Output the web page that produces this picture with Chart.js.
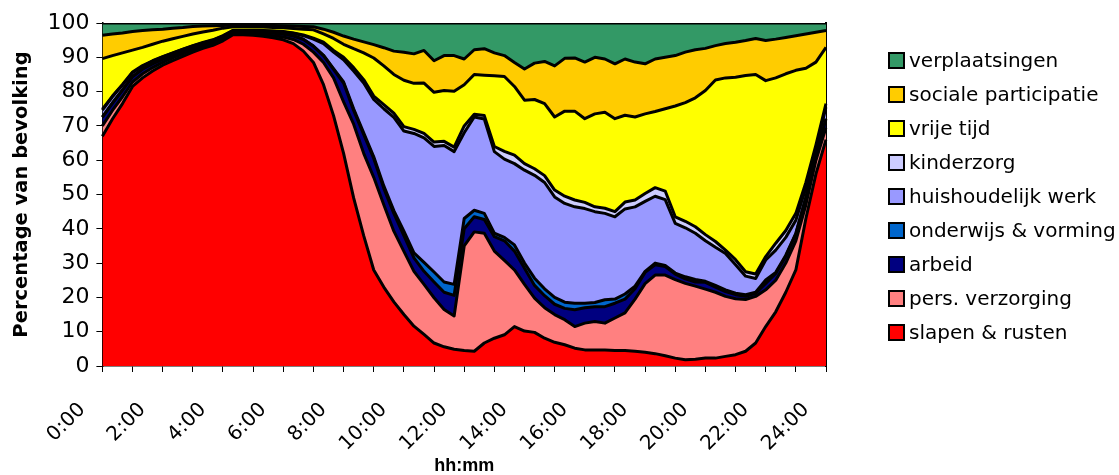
<!DOCTYPE html>
<html>
<head>
<meta charset="utf-8">
<script src="https://cdn.jsdelivr.net/npm/chart.js@4.4.1/dist/chart.umd.min.js"></script>
<style>
  html, body { margin: 0; padding: 0; background: #fff; }
  #wrap { position: relative; width: 1119px; height: 475px; }
  #legend { position: absolute; left: 888px; top: 43px; font: 20px "DejaVu Sans", sans-serif; color: #000; }
  .item { height: 34px; display: flex; align-items: center; white-space: nowrap; }
  .box { width: 13px; height: 13px; border: 2px solid #000; margin-right: 4px; flex: none; }
</style>
</head>
<body>
<div id="wrap">
  <canvas id="chart"></canvas>
  <div id="legend"></div>
</div>
<script>
// time of day, every 20 minutes
const times = [];
for (let k = 0; k <= 72; k++) {
  const m = k * 20;
  times.push(Math.floor(m / 60) + ":" + String(m % 60).padStart(2, "0"));
}
const tickLabels = ["0:00","2:00","4:00","6:00","8:00","10:00","12:00","14:00","16:00","18:00","20:00","22:00","24:00"];

// percentage of population per activity (bottom to top)
const slapen = [67,72,76.5,81.5,84,86,87.7,89,90.3,91.5,92.6,93.5,94.8,96.6,96.6,96.4,96.1,95.7,95.1,94,91.8,88.5,82,73,62,49,38,28,23,18.7,15,11.6,9.2,6.7,5.6,4.9,4.5,4.3,6.7,8.1,9.1,11.5,10.2,9.8,8.1,6.9,6.2,5.2,4.7,4.7,4.7,4.5,4.5,4.3,4,3.6,3,2.3,1.8,2,2.3,2.3,2.8,3.3,4.3,6.7,11.5,15.8,21.5,28,43,56,66];
const verzorging = [3,2.5,2,1.3,1.2,1,0.8,0.8,0.7,0.7,0.6,0.6,0.5,0.4,0.4,0.4,0.5,0.6,0.8,1.2,2,3,6.5,11,15,21.5,24,27,24,20.6,18.4,16,14.6,13.2,10.9,9.7,30.5,34.8,32,25.4,21.7,16.5,13.6,10,8.9,8.1,7.3,6.3,7.8,8.3,7.8,9.5,11,15.2,20,22.9,23.5,22.9,22.3,21.3,20.1,19.2,17.5,16.3,15.1,13.6,10.7,9.2,8.5,8.5,4,4,3.5];
const arbeid = [2.5,2.1,1.9,1.5,1.3,1.1,0.9,0.8,0.7,0.6,0.6,0.5,0.5,0.4,0.4,0.4,0.6,0.7,0.8,1,1.4,1.7,2,2.5,5.5,4,5.5,5.5,4.8,5.2,4.6,3.9,3.8,4.6,5,6,5,4.4,4,4.2,5.7,5.5,4.7,3.7,3.5,3,3.3,4.9,4.5,4.3,4.8,4.3,4,3,3.3,3,2.5,1.6,1.3,1.2,2,1.5,1.4,1.2,0.9,0.9,1.9,2,2,2,2,1.5,2.5];
const onderwijs = [0.1,0.1,0.1,0.1,0.1,0.1,0.1,0.1,0.1,0.1,0.1,0.1,0.1,0.1,0.1,0.1,0.1,0.1,0.1,0.1,0.1,0.1,0.1,0.2,0.3,0.5,0.5,0.5,0.7,0.8,1.3,1.5,2.6,2.9,3,3.2,3,1.9,1.8,1,1,1.8,1.5,2.1,2,2,1.8,1.9,1.3,1.2,2,1.2,1.5,0.8,0.3,0.5,0.3,0.3,0.6,0.7,0.3,0.5,0.5,0.4,0.5,0.3,1,0.3,0.3,0.2,0.2,0.1,0.1];
const huishouden = [2,1.8,1.4,1.1,0.8,0.7,0.6,0.5,0.5,0.4,0.3,0.3,0.3,0.3,0.3,0.4,0.4,0.5,0.6,0.7,1,2,3.4,4.8,6.5,11,14.5,16.7,22.5,27.2,29.2,34.8,36.3,36.6,39.8,38.7,25,27.2,27.5,23.8,22.8,23.7,27.1,30,31,29.3,28.8,28.1,27.6,26.5,25.2,24,24.8,23.1,20.4,19.5,19.2,14.5,14.3,13.5,11.8,11.1,10.6,8.3,5.4,4,5.8,6.5,5.2,3.8,2.8,1.9,3.4];
const kinderzorg = [0.3,0.2,0.2,0.2,0.2,0.1,0.1,0.1,0.1,0.1,0.1,0.1,0.1,0.1,0.1,0.1,0.1,0.1,0.1,0.1,0.2,0.3,0.4,0.5,0.7,1,1,1,1.2,1.2,1.3,1.2,1.3,1.3,1.2,1.3,2,0.8,1,1.5,2.3,2.5,1.9,1.9,2,2,2.1,2,1.8,1.4,1.5,1.5,2,2,2.3,2.5,2.5,1.9,1.9,1.9,1.8,1.7,1,1.5,1.3,1.3,1,2,2,2,1.5,1,1];
const vrijeTijd = [14.7,11.8,9.2,6.4,5.3,4.8,4.5,4.1,3.7,3.4,3.1,2.8,2.2,1,1,1,1,1,1.1,1.3,1.7,2.4,2.4,3.5,3.8,5.5,7.8,11.1,11.3,11.3,13.5,13.4,14.7,14.5,14.8,16.3,12,11.6,11.8,20.6,21.8,20,18.5,20.2,21,21.3,24.8,25.9,24.4,27.1,28,27.1,25.3,24.2,23.2,22.2,24,32.3,34.6,37.6,42,47.1,50.2,53.2,57.2,58.2,51.3,48.2,45.7,41.7,33.3,24.1,16.4];
const sociaal = [6.8,6.3,5.8,5.4,4.9,4.2,3.5,3.1,2.6,2.2,1.7,1.3,0.8,0.5,0.6,0.6,0.6,0.6,0.6,0.7,0.8,0.9,1.4,1.8,2.4,2.8,3.2,3.9,5.3,6.8,8.2,8.6,9.5,9.2,10.2,10.4,7.5,7.2,7.7,6.7,6.1,7,9.1,10.6,12.3,14.9,15.4,15.5,16.5,16.5,15.5,16,16.4,16,14.6,15.3,15,14.7,14.7,14,12.3,10,10,10.2,10.2,10.5,11.7,11.3,10.6,10.1,10,8.7,4.9];
const verplaatsing = [3.6,3.2,2.9,2.5,2.2,2,1.8,1.5,1.3,1,0.9,0.8,0.7,0.6,0.5,0.6,0.6,0.7,0.8,0.9,1,1.1,1.8,2.7,3.8,4.7,5.5,6.3,7.2,8.2,8.5,9,8,11,9.5,9.5,10.5,7.8,7.5,8.7,9.5,11.5,13.4,11.7,11.2,12.5,10.3,10.2,11.4,10,10.5,11.9,10.5,11.4,11.9,10.5,10,9.5,8.5,7.8,7.4,6.6,6,5.6,5.1,4.5,5.1,4.7,4.2,3.7,3.2,2.7,2.2];

const names = ["slapen & rusten","pers. verzorging","arbeid","onderwijs & vorming","huishoudelijk werk","kinderzorg","vrije tijd","sociale participatie","verplaatsingen"];
const colors = ["#FF0000","#FF8080","#000080","#0066CC","#9999FF","#CCCCFF","#FFFF00","#FFCC00","#339966"];
const series = [slapen, verzorging, arbeid, onderwijs, huishouden, kinderzorg, vrijeTijd, sociaal, verplaatsing];

Chart.defaults.font.family = "'DejaVu Sans', sans-serif";
Chart.defaults.color = "#000";

const datasets = series.map((d, i) => ({
  label: names[i],
  data: d,
  backgroundColor: colors[i],
  borderColor: "#000",
  borderWidth: 3,
  borderJoinStyle: "round",
  pointRadius: 0,
  tension: 0,
  fill: i === 0 ? "origin" : "-1"
}));

new Chart(document.getElementById("chart"), {
  type: "line",
  data: { labels: times, datasets: datasets },
  options: {
    responsive: true,
    maintainAspectRatio: false,
    animation: false,
    layout: { padding: { left: 6, right: 293, top: 23, bottom: 0 } },
    plugins: { legend: { display: false }, tooltip: { enabled: false } },
    scales: {
      x: {
        offset: false,
        afterFit: (scale) => { scale.height = 109; },
        grid: {
          drawOnChartArea: false,
          tickLength: 6,
          tickColor: (ctx) => (ctx.index % 3 === 0 ? "#000" : "rgba(0,0,0,0)")
        },
        border: { color: "#000", width: 1.5 },
        ticks: {
          autoSkip: false,
          maxRotation: 45,
          minRotation: 45,
          padding: 26,
          labelOffset: -20,
          font: { size: 20 },
          callback: (v, i) => (i % 6 === 0 ? tickLabels[i / 6] : "")
        },
        title: {
          display: true,
          text: "hh:mm",
          font: { family: "'Liberation Sans', Arial, sans-serif", size: 18, weight: "bold", lineHeight: 1 },
          padding: { top: 9, bottom: 0 }
        }
      },
      y: {
        stacked: true,
        min: 0,
        max: 100,
        grid: { drawOnChartArea: false, tickLength: 6, tickColor: "#000" },
        border: { color: "#000", width: 1.5 },
        ticks: { stepSize: 10, padding: 7, font: { size: 22 } },
        title: {
          display: true,
          text: "Percentage van bevolking",
          font: { size: 19.5, weight: "bold" },
          padding: { top: 4, bottom: 7 }
        }
      },
      y2: {
        position: "right",
        min: 0,
        max: 100,
        grid: { display: false, drawTicks: false },
        ticks: { display: false },
        border: { color: "#000", width: 2 }
      }
    }
  }
});

// legend, top entry first
const legend = document.getElementById("legend");
for (let i = names.length - 1; i >= 0; i--) {
  const row = document.createElement("div");
  row.className = "item";
  row.innerHTML = '<span class="box" style="background:' + colors[i] + '"></span>' + names[i];
  legend.appendChild(row);
}
</script>
</body>
</html>
